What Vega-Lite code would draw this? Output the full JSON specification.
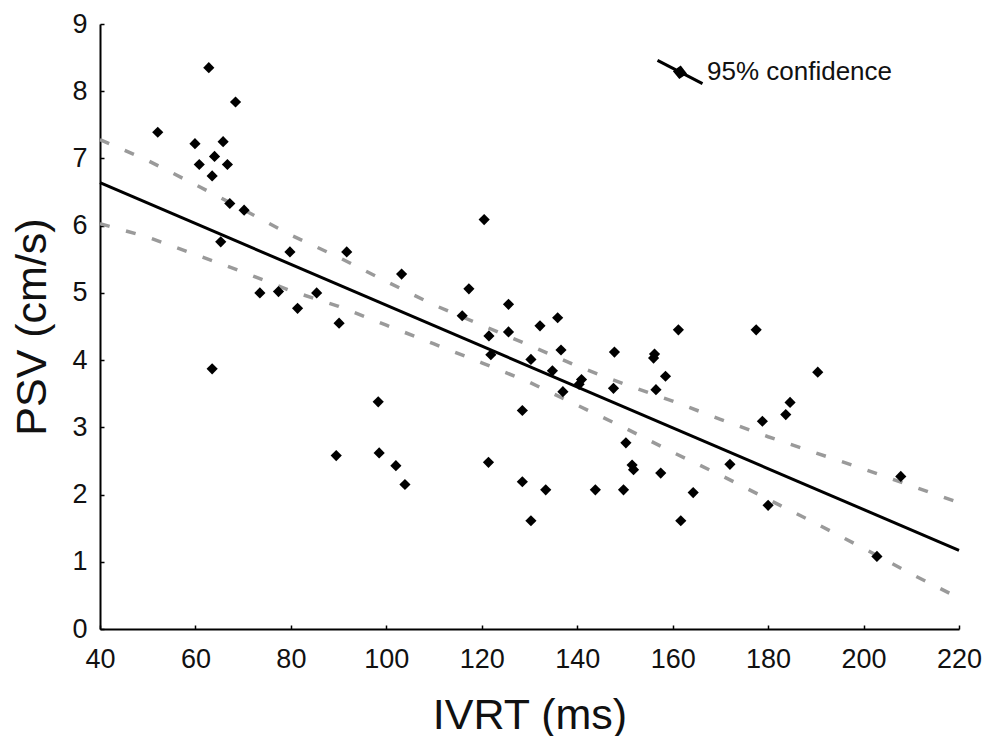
{
  "$schema": "https://vega.github.io/schema/vega-lite/v6.json",
  "width": 859,
  "height": 605,
  "autosize": "none",
  "padding": {"left": 100, "top": 24, "right": 26, "bottom": 107},
  "background": "white",
  "config": {
    "view": {"stroke": null},
    "font": "Liberation Sans",
    "axis": {
      "grid": false,
      "domainColor": "black",
      "domainWidth": 2,
      "tickColor": "black",
      "tickWidth": 1.5,
      "tickSize": -4,
      "labelFont": "Liberation Sans",
      "labelFontSize": 26,
      "labelColor": "#111",
      "titleFont": "Liberation Sans",
      "titleFontSize": 43,
      "titleFontWeight": "normal",
      "titleColor": "#111"
    }
  },
  "datasets": {
    "points": [
      {"ivrt": 62.8, "psv": 8.35}, {"ivrt": 68.4, "psv": 7.84}, {"ivrt": 52.1, "psv": 7.39},
      {"ivrt": 59.9, "psv": 7.22}, {"ivrt": 65.8, "psv": 7.25}, {"ivrt": 64.0, "psv": 7.03},
      {"ivrt": 60.8, "psv": 6.91}, {"ivrt": 66.7, "psv": 6.91}, {"ivrt": 63.5, "psv": 6.74},
      {"ivrt": 67.2, "psv": 6.33}, {"ivrt": 70.2, "psv": 6.23}, {"ivrt": 65.3, "psv": 5.76},
      {"ivrt": 79.8, "psv": 5.61}, {"ivrt": 91.7, "psv": 5.61}, {"ivrt": 73.5, "psv": 5.0},
      {"ivrt": 77.4, "psv": 5.02}, {"ivrt": 85.4, "psv": 5.0}, {"ivrt": 81.4, "psv": 4.77},
      {"ivrt": 90.1, "psv": 4.55}, {"ivrt": 63.5, "psv": 3.87}, {"ivrt": 98.3, "psv": 3.38},
      {"ivrt": 89.5, "psv": 2.58}, {"ivrt": 98.5, "psv": 2.62}, {"ivrt": 102.0, "psv": 2.43},
      {"ivrt": 103.9, "psv": 2.15}, {"ivrt": 120.5, "psv": 6.09}, {"ivrt": 103.2, "psv": 5.28},
      {"ivrt": 117.3, "psv": 5.06}, {"ivrt": 125.6, "psv": 4.83}, {"ivrt": 115.9, "psv": 4.66},
      {"ivrt": 135.9, "psv": 4.63}, {"ivrt": 132.2, "psv": 4.51}, {"ivrt": 121.5, "psv": 4.36},
      {"ivrt": 125.6, "psv": 4.42}, {"ivrt": 136.6, "psv": 4.15}, {"ivrt": 147.8, "psv": 4.12},
      {"ivrt": 156.2, "psv": 4.09}, {"ivrt": 156.0, "psv": 4.03}, {"ivrt": 161.2, "psv": 4.45},
      {"ivrt": 121.9, "psv": 4.08}, {"ivrt": 130.3, "psv": 4.01}, {"ivrt": 134.8, "psv": 3.84},
      {"ivrt": 140.9, "psv": 3.71}, {"ivrt": 140.4, "psv": 3.64}, {"ivrt": 158.5, "psv": 3.76},
      {"ivrt": 137.0, "psv": 3.53}, {"ivrt": 147.6, "psv": 3.58}, {"ivrt": 156.5, "psv": 3.56},
      {"ivrt": 128.5, "psv": 3.25}, {"ivrt": 150.2, "psv": 2.77}, {"ivrt": 121.4, "psv": 2.48},
      {"ivrt": 151.5, "psv": 2.44}, {"ivrt": 151.8, "psv": 2.37}, {"ivrt": 157.5, "psv": 2.32},
      {"ivrt": 128.5, "psv": 2.19}, {"ivrt": 133.4, "psv": 2.07}, {"ivrt": 143.8, "psv": 2.07},
      {"ivrt": 149.7, "psv": 2.07}, {"ivrt": 164.3, "psv": 2.03}, {"ivrt": 130.3, "psv": 1.61},
      {"ivrt": 161.7, "psv": 1.61}, {"ivrt": 177.5, "psv": 4.45}, {"ivrt": 190.4, "psv": 3.82},
      {"ivrt": 184.6, "psv": 3.37}, {"ivrt": 183.7, "psv": 3.19}, {"ivrt": 178.8, "psv": 3.09},
      {"ivrt": 172.0, "psv": 2.45}, {"ivrt": 180.0, "psv": 1.84}, {"ivrt": 207.8, "psv": 2.27},
      {"ivrt": 202.8, "psv": 1.08}
    ],
    "fit": [
      {"ivrt": 40, "psv": 6.64},
      {"ivrt": 220, "psv": 1.17}
    ],
    "bands": [
      {"ivrt": 40, "psv": 7.28, "band": "upper"}, {"ivrt": 50, "psv": 6.97, "band": "upper"},
      {"ivrt": 60, "psv": 6.61, "band": "upper"}, {"ivrt": 70, "psv": 6.24, "band": "upper"},
      {"ivrt": 80, "psv": 5.86, "band": "upper"}, {"ivrt": 90, "psv": 5.53, "band": "upper"},
      {"ivrt": 100, "psv": 5.17, "band": "upper"}, {"ivrt": 110, "psv": 4.82, "band": "upper"},
      {"ivrt": 120, "psv": 4.52, "band": "upper"}, {"ivrt": 130, "psv": 4.22, "band": "upper"},
      {"ivrt": 140, "psv": 3.91, "band": "upper"}, {"ivrt": 150, "psv": 3.64, "band": "upper"},
      {"ivrt": 160, "psv": 3.39, "band": "upper"}, {"ivrt": 170, "psv": 3.12, "band": "upper"},
      {"ivrt": 180, "psv": 2.86, "band": "upper"}, {"ivrt": 190, "psv": 2.62, "band": "upper"},
      {"ivrt": 200, "psv": 2.38, "band": "upper"}, {"ivrt": 210, "psv": 2.13, "band": "upper"},
      {"ivrt": 220, "psv": 1.88, "band": "upper"},
      {"ivrt": 40, "psv": 6.03, "band": "lower"}, {"ivrt": 50, "psv": 5.83, "band": "lower"},
      {"ivrt": 60, "psv": 5.57, "band": "lower"}, {"ivrt": 70, "psv": 5.31, "band": "lower"},
      {"ivrt": 80, "psv": 5.03, "band": "lower"}, {"ivrt": 90, "psv": 4.8, "band": "lower"},
      {"ivrt": 100, "psv": 4.52, "band": "lower"}, {"ivrt": 110, "psv": 4.24, "band": "lower"},
      {"ivrt": 120, "psv": 3.96, "band": "lower"}, {"ivrt": 130, "psv": 3.67, "band": "lower"},
      {"ivrt": 140, "psv": 3.33, "band": "lower"}, {"ivrt": 150, "psv": 2.99, "band": "lower"},
      {"ivrt": 160, "psv": 2.63, "band": "lower"}, {"ivrt": 170, "psv": 2.29, "band": "lower"},
      {"ivrt": 180, "psv": 1.93, "band": "lower"}, {"ivrt": 190, "psv": 1.57, "band": "lower"},
      {"ivrt": 200, "psv": 1.2, "band": "lower"}, {"ivrt": 210, "psv": 0.82, "band": "lower"},
      {"ivrt": 220, "psv": 0.46, "band": "lower"}
    ]
  },
  "encoding": {
    "x": {
      "field": "ivrt", "type": "quantitative",
      "scale": {"domain": [40, 220], "nice": false, "zero": false},
      "axis": {"title": "IVRT (ms)", "values": [40, 60, 80, 100, 120, 140, 160, 180, 200, 220], "labelFontSize": 27, "labelPadding": 21, "titlePadding": 22, "labelFlush": false}
    },
    "y": {
      "field": "psv", "type": "quantitative",
      "scale": {"domain": [0, 9], "nice": false},
      "axis": {"title": "PSV (cm/s)", "values": [0, 1, 2, 3, 4, 5, 6, 7, 8, 9], "labelFontSize": 27, "labelPadding": 17, "titlePadding": 17, "labelFlush": false}
    }
  },
  "layer": [
    {
      "data": {"name": "bands"},
      "mark": {"type": "line", "color": "#9a9a9a", "strokeWidth": 3.5, "strokeDash": [10, 17]},
      "encoding": {"detail": {"field": "band", "type": "nominal"}}
    },
    {
      "data": {"name": "fit"},
      "mark": {"type": "line", "strokeWidth": 3},
      "encoding": {
        "stroke": {
          "datum": "95% confidence",
          "type": "nominal",
          "scale": {"range": ["black"]},
          "legend": {
            "title": null,
            "orient": "none",
            "legendX": 556,
            "legendY": 24,
            "symbolType": "M-1,-0.52L1,0.52M-0.22,-0.02L0.02,-0.2L0.22,0.06L-0.02,0.22Z",
            "symbolSize": 2025,
            "symbolStrokeWidth": 3,
            "symbolStrokeColor": "black",
            "symbolFillColor": "black",
            "labelFont": "Liberation Sans",
            "labelFontSize": 26,
            "labelLimit": 400,
            "labelColor": "#111",
            "labelOffset": 3,
            "padding": 0
          }
        }
      }
    },
    {
      "data": {"name": "points"},
      "mark": {"type": "point", "shape": "diamond", "filled": true, "color": "black", "size": 125, "opacity": 1}
    }
  ]
}
